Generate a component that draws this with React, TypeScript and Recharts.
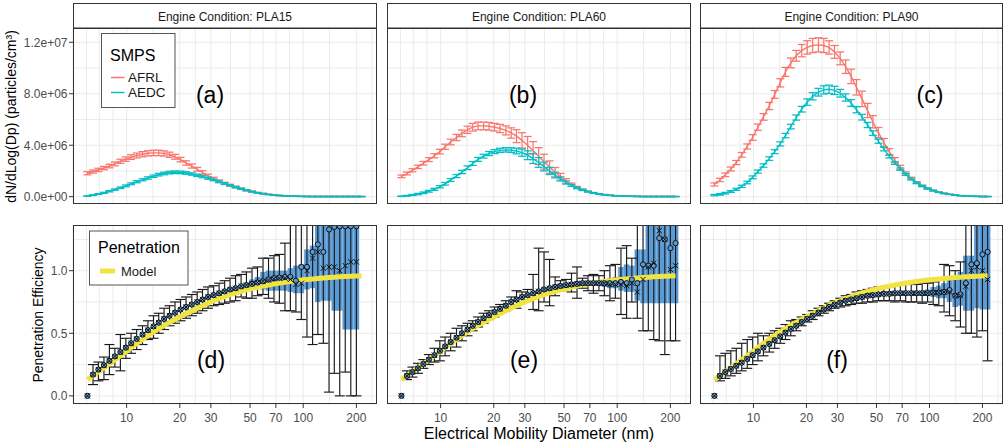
import React from 'react'
import { CartesianGrid, ComposedChart, ErrorBar, Line, Scatter, XAxis, YAxis } from 'recharts'

const FONT = '"Liberation Sans", Arial, Helvetica, sans-serif'
const RED = '#F8766D'
const TEAL = '#00BFC4'
const YELLOW = '#F0E442'
const BLUE = '#5B9BD5'
const GRID = '#EBEBEB'
const BORDER = '#333333'

// electrical mobility diameter bins (nm)
const diam = [
  6.0, 6.45, 6.92, 7.44, 7.99, 8.58, 9.22, 9.9, 10.6, 11.4, 12.3, 13.2, 14.2, 15.2, 16.3, 17.5, 18.8,
  20.2, 21.7, 23.4, 25.1, 26.9, 28.9, 31.1, 33.4, 35.9, 38.5, 41.4, 44.5, 47.7, 51.3, 55.1, 59.2,
  63.6, 68.3, 73.3, 78.8, 84.6, 90.9, 97.6, 105, 113, 121, 130, 140, 150, 161, 173, 186, 200, 214,
]

const conditions = ['PLA15', 'PLA60', 'PLA90']
const topTags = ['(a)', '(b)', '(c)']
const bottomTags = ['(d)', '(e)', '(f)']

// dN/dlogDp, in units of 1e6 particles/cm3
const afrlPLA15 = [
  1.82, 1.95, 2.08, 2.22, 2.38, 2.55, 2.75, 2.92, 3.08, 3.2, 3.3, 3.37, 3.4, 3.4, 3.36, 3.26, 3.1,
  2.88, 2.62, 2.38, 2.13, 1.88, 1.63, 1.4, 1.2, 1.03, 0.89, 0.75, 0.62, 0.5, 0.4, 0.31, 0.24, 0.18,
  0.13, 0.09, 0.065, 0.045, 0.03, 0.02, 0.015, 0.01, 0.01, 0.01, 0.01, 0.01, 0.01, 0.01, 0.01, 0.01, 0.01,
]
const afrlErrPLA15 = [
  0.12, 0.12, 0.13, 0.13, 0.14, 0.15, 0.16, 0.17, 0.18, 0.19, 0.2, 0.2, 0.21, 0.21, 0.2, 0.2, 0.19,
  0.18, 0.17, 0.16, 0.15, 0.14, 0.12, 0.11, 0.1, 0.09, 0.08, 0.07, 0.06, 0.05, 0.04, 0.03, 0.03, 0.02,
  0.02, 0.02, 0.01, 0.01, 0.01, 0.01, 0.01, 0.01, 0.01, 0.01, 0.01, 0.01, 0.01, 0.01, 0.01, 0.01, 0.01,
]
const aedcPLA15 = [
  0.05, 0.12, 0.2, 0.3, 0.42, 0.55, 0.69, 0.84, 1.0, 1.16, 1.31, 1.45, 1.59, 1.71, 1.8, 1.87, 1.9,
  1.89, 1.84, 1.76, 1.66, 1.55, 1.43, 1.3, 1.16, 1.02, 0.88, 0.74, 0.61, 0.49, 0.39, 0.3, 0.23, 0.17,
  0.12, 0.09, 0.06, 0.04, 0.03, 0.02, 0.015, 0.01, 0.01, 0.01, 0.01, 0.01, 0.01, 0.01, 0.01, 0.01, 0.01,
]
const aedcErrPLA15 = [
  0.02, 0.03, 0.03, 0.04, 0.05, 0.05, 0.06, 0.07, 0.07, 0.08, 0.08, 0.09, 0.09, 0.1, 0.1, 0.1, 0.1,
  0.1, 0.1, 0.09, 0.09, 0.08, 0.08, 0.07, 0.07, 0.06, 0.05, 0.05, 0.04, 0.03, 0.03, 0.02, 0.02, 0.01,
  0.01, 0.01, 0.01, 0.01, 0.01, 0.01, 0.01, 0.01, 0.01, 0.01, 0.01, 0.01, 0.01, 0.01, 0.01, 0.01, 0.01,
]

const afrlPLA60 = [
  1.58, 1.8, 2.05, 2.32, 2.6, 2.88, 3.18, 3.5, 3.88, 4.25, 4.6, 4.92, 5.2, 5.4, 5.5, 5.5, 5.47,
  5.4, 5.3, 5.15, 4.95, 4.7, 4.38, 4.0, 3.58, 3.15, 2.72, 2.3, 1.9, 1.55, 1.22, 0.94, 0.72, 0.54,
  0.4, 0.3, 0.22, 0.16, 0.11, 0.08, 0.055, 0.04, 0.03, 0.02, 0.015, 0.01, 0.01, 0.01, 0.01, 0.01, 0.01,
]
const afrlErrPLA60 = [
  0.1, 0.11, 0.12, 0.13, 0.14, 0.15, 0.16, 0.18, 0.2, 0.22, 0.24, 0.26, 0.28, 0.3, 0.3, 0.3, 0.3,
  0.3, 0.32, 0.35, 0.4, 0.5, 0.6, 0.68, 0.7, 0.66, 0.58, 0.48, 0.36, 0.26, 0.18, 0.12, 0.08, 0.06,
  0.04, 0.03, 0.02, 0.02, 0.01, 0.01, 0.01, 0.01, 0.01, 0.01, 0.01, 0.01, 0.01, 0.01, 0.01, 0.01, 0.01,
]
const aedcPLA60 = [
  0.03, 0.07, 0.13, 0.2, 0.3, 0.42, 0.57, 0.77, 1.0, 1.3, 1.6, 1.92, 2.25, 2.58, 2.9, 3.15, 3.35,
  3.5, 3.6, 3.64, 3.62, 3.55, 3.42, 3.22, 2.96, 2.66, 2.34, 2.0, 1.68, 1.38, 1.1, 0.87, 0.68, 0.52,
  0.39, 0.29, 0.21, 0.15, 0.1, 0.07, 0.05, 0.035, 0.025, 0.018, 0.012, 0.01, 0.01, 0.01, 0.01, 0.01, 0.01,
]
const aedcErrPLA60 = [
  0.02, 0.03, 0.04, 0.05, 0.06, 0.07, 0.08, 0.09, 0.1, 0.11, 0.12, 0.13, 0.14, 0.15, 0.15, 0.15, 0.16,
  0.16, 0.16, 0.17, 0.18, 0.22, 0.28, 0.34, 0.38, 0.38, 0.34, 0.28, 0.22, 0.16, 0.12, 0.08, 0.06, 0.04,
  0.03, 0.02, 0.02, 0.01, 0.01, 0.01, 0.01, 0.01, 0.01, 0.01, 0.01, 0.01, 0.01, 0.01, 0.01, 0.01, 0.01,
]

const afrlPLA90 = [
  0.95, 1.3, 1.7, 2.15, 2.65, 3.25, 3.9, 4.6, 5.4, 6.2, 7.05, 7.95, 8.85, 9.7, 10.4, 10.95, 11.35,
  11.6, 11.75, 11.8, 11.75, 11.6, 11.25, 10.75, 10.1, 9.35, 8.5, 7.6, 6.7, 5.82, 4.98, 4.2, 3.48, 2.84,
  2.28, 1.81, 1.42, 1.1, 0.84, 0.64, 0.48, 0.35, 0.26, 0.18, 0.12, 0.08, 0.05, 0.03, 0.02, 0.01, 0.01,
]
const afrlErrPLA90 = [
  0.12, 0.13, 0.14, 0.15, 0.16, 0.18, 0.2, 0.22, 0.24, 0.26, 0.28, 0.3, 0.32, 0.35, 0.38, 0.42, 0.48,
  0.52, 0.55, 0.55, 0.55, 0.52, 0.5, 0.5, 0.52, 0.56, 0.6, 0.6, 0.55, 0.48, 0.4, 0.32, 0.26, 0.2,
  0.16, 0.12, 0.09, 0.07, 0.05, 0.04, 0.03, 0.02, 0.02, 0.01, 0.01, 0.01, 0.01, 0.01, 0.01, 0.01, 0.01,
]
const aedcPLA90 = [
  0.12, 0.18, 0.27, 0.4, 0.57, 0.8, 1.1, 1.5, 1.95, 2.42, 2.96, 3.5, 4.1, 4.75, 5.45, 6.15, 6.8,
  7.35, 7.8, 8.12, 8.3, 8.35, 8.26, 8.04, 7.71, 7.28, 6.76, 6.18, 5.57, 4.94, 4.31, 3.7, 3.13, 2.61,
  2.14, 1.73, 1.37, 1.07, 0.83, 0.63, 0.47, 0.34, 0.25, 0.18, 0.12, 0.08, 0.05, 0.03, 0.02, 0.01, 0.01,
]
const aedcErrPLA90 = [
  0.05, 0.06, 0.06, 0.07, 0.08, 0.09, 0.1, 0.11, 0.12, 0.13, 0.14, 0.15, 0.16, 0.17, 0.18, 0.2, 0.22,
  0.25, 0.28, 0.3, 0.32, 0.32, 0.32, 0.3, 0.28, 0.26, 0.24, 0.22, 0.2, 0.18, 0.16, 0.14, 0.12, 0.1,
  0.09, 0.08, 0.07, 0.06, 0.05, 0.04, 0.03, 0.02, 0.02, 0.01, 0.01, 0.01, 0.01, 0.01, 0.01, 0.01, 0.01,
]

// penetration model (same curve in all three conditions)
const model = [
  0.13, 0.161, 0.192, 0.224, 0.256, 0.288, 0.32, 0.353, 0.386, 0.419, 0.451, 0.482, 0.511, 0.538,
  0.563, 0.587, 0.61, 0.634, 0.657, 0.679, 0.7, 0.721, 0.741, 0.76, 0.777, 0.793, 0.808, 0.822, 0.835,
  0.847, 0.858, 0.868, 0.877, 0.886, 0.894, 0.901, 0.908, 0.914, 0.92, 0.925, 0.93, 0.934, 0.938,
  0.942, 0.945, 0.948, 0.951, 0.953, 0.955, 0.957, 0.959,
]

// measured penetration, PLA15
const circPLA15 = [
  0, 0.17, 0.21, 0.245, 0.28, 0.315, 0.35, 0.385, 0.42, 0.455, 0.49, 0.525, 0.555, 0.585, 0.615, 0.64,
  0.665, 0.69, 0.71, 0.73, 0.75, 0.77, 0.79, 0.805, 0.82, 0.835, 0.85, 0.86, 0.875, 0.885, 0.895,
  0.905, 0.915, 0.93, 0.94, 0.945, 0.95, 0.95, 0.92, 1.03, 1.03, 1.15, 1.21, 1.15, 1.33, 1.35, 1.355,
  1.355, 1.355, 1.355, null,
]
const crossPLA15 = [
  0, 0.17, 0.21, 0.245, 0.28, 0.315, 0.35, 0.385, 0.42, 0.455, 0.49, 0.525, 0.555, 0.585, 0.615, 0.64,
  0.665, 0.69, 0.71, 0.73, 0.75, 0.77, 0.79, 0.805, 0.82, 0.835, 0.85, 0.86, 0.875, 0.885, 0.895,
  0.905, 0.915, 0.925, 0.935, 0.94, 0.94, 0.93, 0.89, 0.9, 1.0, 1.1, 1.15, 1.02, 1.03, 1.03, 1.0,
  1.04, 1.07, 1.07, null,
]
const errLoPLA15 = [
  0, 0.09, 0.12, 0.13, 0.17, 0.23, 0.2, 0.3, 0.34, 0.37, 0.41, 0.45, 0.46, 0.5, 0.53, 0.56, 0.58,
  0.6, 0.62, 0.64, 0.66, 0.68, 0.7, 0.72, 0.73, 0.74, 0.75, 0.76, 0.79, 0.78, 0.78, 0.8, 0.81, 0.78,
  0.75, 0.74, 0.68, 0.68, 0.67, 0.61, 0.47, 0.41, 0.49, 0.42, 0.03, 0.18, 0, 0.19, 0, 0, null,
]
const errHiPLA15 = [
  0, 0.25, 0.27, 0.31, 0.41, 0.38, 0.49, 0.46, 0.5, 0.53, 0.56, 0.6, 0.64, 0.66, 0.7, 0.72, 0.75,
  0.77, 0.79, 0.81, 0.83, 0.85, 0.87, 0.88, 0.9, 0.92, 0.94, 0.96, 0.97, 0.99, 1.02, 1.03, 1.1, 1.1,
  1.12, 1.13, 1.22, 1.45, 1.5, 1.6, 1.7, 1.9, 1.95, 2.0, 2.5, 2.4, 2.7, 2.5, 2.7, 2.7, null,
]
const bandStartPLA15 = 30
const bandLoPLA15 = [0.88, 0.88, 0.85, 0.84, 0.84, 0.84, 0.84, 0.83, 0.82, 0.82, 0.85, 0.86, 0.75, 0.76, 0.76, 0.68, 0.68, 0.53, 0.53, 0.53]
const bandHiPLA15 = [0.93, 0.95, 0.99, 1.0, 1.0, 1.0, 1.0, 1.02, 1.04, 1.05, 1.17, 1.2, 1.5, 1.5, 1.5, 1.5, 1.5, 1.5, 1.5, 1.5]

// measured penetration, PLA60
const circPLA60 = [
  0, 0.16, 0.19, 0.22, 0.255, 0.29, 0.325, 0.36, 0.395, 0.43, 0.465, 0.5, 0.53, 0.56, 0.59, 0.62,
  0.645, 0.67, 0.695, 0.72, 0.75, 0.77, 0.79, 0.805, 0.82, 0.835, 0.85, 0.86, 0.87, 0.878, 0.885,
  0.89, 0.895, 0.9, 0.9, 0.9, 0.9, 0.9, 0.9, 0.9, 0.91, 0.9, 0.93, 0.9, 1.05, 1.04, 1.04, 1.26, 1.25,
  1.18, 1.22,
]
const crossPLA60 = [
  0, 0.16, 0.19, 0.22, 0.255, 0.29, 0.325, 0.36, 0.395, 0.43, 0.465, 0.5, 0.53, 0.56, 0.59, 0.62,
  0.645, 0.67, 0.695, 0.72, 0.75, 0.77, 0.79, 0.805, 0.82, 0.835, 0.85, 0.86, 0.87, 0.878, 0.885,
  0.89, 0.895, 0.9, 0.9, 0.9, 0.9, 0.9, 0.89, 0.89, 0.89, 0.88, 0.9, 0.83, 0.93, 1.03, 1.06, 1.32,
  1.25, 1.01, 1.04,
]
const errLoPLA60 = [
  0, 0.13, 0.15, 0.18, 0.22, 0.25, 0.27, 0.28, 0.32, 0.36, 0.39, 0.44, 0.48, 0.52, 0.55, 0.58, 0.61,
  0.63, 0.66, 0.68, 0.71, 0.7, 0.75, 0.76, 0.69, 0.68, 0.75, 0.72, 0.8, 0.84, 0.85, 0.83, 0.78, 0.86,
  0.84, 0.82, 0.84, 0.8, 0.76, 0.78, 0.65, 0.62, 0.75, 0.62, 0.52, 0.52, 0.45, 0.44, 0.33, 0.44, 0.44,
]
const errHiPLA60 = [
  0, 0.2, 0.23, 0.26, 0.29, 0.33, 0.38, 0.44, 0.47, 0.5, 0.54, 0.56, 0.58, 0.6, 0.63, 0.66, 0.68,
  0.71, 0.73, 0.76, 0.79, 0.84, 0.83, 0.85, 0.97, 1.18, 1.15, 1.09, 0.95, 0.92, 0.93, 0.98, 1.03,
  0.94, 0.96, 0.97, 0.96, 1.0, 1.04, 1.05, 1.18, 1.2, 1.1, 1.5, 1.6, 1.6, 1.65, 2.0, 2.1, 1.9, 2.0,
]
const bandStartPLA60 = 37
const bandLoPLA60 = [0.87, 0.86, 0.86, 0.84, 0.83, 0.83, 0.76, 0.74, 0.74, 0.74, 0.74, 0.74, 0.74, 0.74]
const bandHiPLA60 = [0.93, 0.94, 0.95, 1.03, 1.05, 1.04, 1.17, 1.17, 1.5, 1.5, 1.5, 1.5, 1.5, 1.5]

// measured penetration, PLA90
const circPLA90 = [
  0, 0.16, 0.19, 0.215, 0.24, 0.265, 0.295, 0.325, 0.355, 0.385, 0.415, 0.445, 0.475, 0.505, 0.535,
  0.56, 0.59, 0.615, 0.64, 0.665, 0.69, 0.71, 0.73, 0.745, 0.76, 0.77, 0.78, 0.79, 0.8, 0.805, 0.81,
  0.815, 0.815, 0.82, 0.82, 0.82, 0.82, 0.82, 0.82, 0.82, 0.825, 0.825, 0.83, 0.845, 0.8, 0.81, 0.9,
  1.05, 1.06, 1.13, 1.15,
]
const crossPLA90 = [
  0, 0.16, 0.19, 0.215, 0.24, 0.265, 0.295, 0.325, 0.355, 0.385, 0.415, 0.445, 0.475, 0.505, 0.535,
  0.56, 0.59, 0.615, 0.64, 0.665, 0.69, 0.71, 0.73, 0.745, 0.76, 0.77, 0.78, 0.79, 0.8, 0.805, 0.81,
  0.815, 0.815, 0.82, 0.82, 0.82, 0.82, 0.82, 0.82, 0.82, 0.825, 0.825, 0.83, 0.83, 0.8, 0.8, 0.875,
  1.0, 1.03, 1.0, 0.93,
]
const errLoPLA90 = [
  0, 0.12, 0.14, 0.16, 0.18, 0.2, 0.22, 0.25, 0.28, 0.32, 0.35, 0.38, 0.42, 0.45, 0.48, 0.52, 0.56,
  0.59, 0.61, 0.64, 0.66, 0.68, 0.7, 0.71, 0.72, 0.73, 0.74, 0.74, 0.75, 0.75, 0.76, 0.76, 0.76, 0.75,
  0.76, 0.75, 0.75, 0.75, 0.74, 0.75, 0.73, 0.72, 0.67, 0.64, 0.6, 0.55, 0.5, 0.5, 0.47, 0.52, 0.28,
]
const errHiPLA90 = [
  0, 0.32, 0.34, 0.36, 0.38, 0.42, 0.45, 0.47, 0.5, 0.48, 0.5, 0.52, 0.54, 0.57, 0.6, 0.61, 0.63,
  0.65, 0.68, 0.7, 0.72, 0.74, 0.76, 0.78, 0.8, 0.81, 0.83, 0.84, 0.85, 0.86, 0.87, 0.87, 0.88, 0.88,
  0.89, 0.89, 0.89, 0.89, 0.9, 0.9, 0.91, 0.93, 1.05, 1.04, 1.0, 1.07, 1.4, 1.6, 1.65, 1.75, 2.0,
]
const bandStartPLA90 = 38
const bandLoPLA90 = [0.8, 0.8, 0.79, 0.78, 0.78, 0.75, 0.71, 0.72, 0.68, 0.68, 0.7, 0.69, 0.69]
const bandHiPLA90 = [0.84, 0.85, 0.87, 0.88, 0.9, 0.93, 0.93, 0.99, 1.12, 1.12, 1.5, 1.5, 1.5]

// axis breaks
const xGrid = [5.92, 7, 8.37, 10, 14.1, 20, 24.5, 30, 38.7, 50, 59.2, 70, 83.7, 100, 141, 200, 245]
const xLabels = [10, 20, 30, 50, 70, 100, 200]
const topGrid = [0, 2, 4, 6, 8, 10, 12]
const topLabels = [0, 4, 8, 12]
const botGrid = [0, 0.25, 0.5, 0.75, 1, 1.25]
const botLabels = [0, 0.5, 1]

const topSeries = [
  { afrl: afrlPLA15, afrlErr: afrlErrPLA15, aedc: aedcPLA15, aedcErr: aedcErrPLA15 },
  { afrl: afrlPLA60, afrlErr: afrlErrPLA60, aedc: aedcPLA60, aedcErr: aedcErrPLA60 },
  { afrl: afrlPLA90, afrlErr: afrlErrPLA90, aedc: aedcPLA90, aedcErr: aedcErrPLA90 },
]
const bottomSeries = [
  { circ: circPLA15, cross: crossPLA15, lo: errLoPLA15, hi: errHiPLA15, bandStart: bandStartPLA15, bandLo: bandLoPLA15, bandHi: bandHiPLA15 },
  { circ: circPLA60, cross: crossPLA60, lo: errLoPLA60, hi: errHiPLA60, bandStart: bandStartPLA60, bandLo: bandLoPLA60, bandHi: bandHiPLA60 },
  { circ: circPLA90, cross: crossPLA90, lo: errLoPLA90, hi: errHiPLA90, bandStart: bandStartPLA90, bandLo: bandLoPLA90, bandHi: bandHiPLA90 },
]

// layout
const COL_LEFT = [73, 387, 700]
const COL_WIDTH = [304, 304, 303]
const AXIS_W = 73
const TOP_Y = 28
const TOP_H = 176
const BOT_Y = 225
const BOT_H = 179
const BOT_AXIS_H = 30
const X_DOMAIN = [4.97, 261.7]
const TOP_DOMAIN = [-0.57, 13.11]
const BOT_DOMAIN = [-0.065, 1.365]

function sci(v: number) {
  const n = v * 1e6
  if (n === 0) return '0.0e+00'
  const e = Math.floor(Math.log10(n) + 1e-9)
  return `${(n / 10 ** e).toFixed(1)}e+${String(e).padStart(2, '0')}`
}

const makeYTick = (show: boolean, labels: number[], fmt: (v: number) => string) => (p: any) => {
  const v = p.payload?.value
  if (!show || !labels.includes(v)) return <g />
  return (
    <g>
      <line x1={p.x - 4} x2={p.x} y1={p.y} y2={p.y} stroke={BORDER} strokeWidth={1} />
      <text x={p.x - 5.5} y={p.y + 4.3} textAnchor="end" fontSize={12} fill="#4D4D4D" fontFamily={FONT}>
        {fmt(v)}
      </text>
    </g>
  )
}

const XTick = (p: any) => {
  const v = p.payload?.value
  if (!xLabels.includes(v)) return <g />
  return (
    <g>
      <line x1={p.x} x2={p.x} y1={p.y} y2={p.y + 4} stroke={BORDER} strokeWidth={1} />
      <text x={p.x} y={p.y + 18} textAnchor="middle" fontSize={12} fill="#4D4D4D" fontFamily={FONT}>
        {v}
      </text>
    </g>
  )
}

const CircleMark = (p: any) => (
  <circle cx={p.cx} cy={p.cy} r={2.6} fill={BLUE} stroke="#111" strokeWidth={1} />
)
const CrossMark = (p: any) => (
  <path
    d={`M${p.cx - 2.6},${p.cy - 2.6}L${p.cx + 2.6},${p.cy + 2.6}M${p.cx - 2.6},${p.cy + 2.6}L${p.cx + 2.6},${p.cy - 2.6}`}
    stroke="#111"
    strokeWidth={1}
    fill="none"
  />
)
const NoMark = () => <g />

function TopPanel({ col }: { col: number }) {
  const s = topSeries[col]
  const rows = diam.map((d, i) => ({
    d,
    afrl: s.afrl[i],
    afrlErr: s.afrlErr[i],
    aedc: s.aedc[i],
    aedcErr: s.aedcErr[i],
  }))
  const axisW = col === 0 ? AXIS_W : 0
  return (
    <div style={{ position: 'absolute', left: COL_LEFT[col] - axisW, top: TOP_Y }}>
      <ComposedChart
        width={COL_WIDTH[col] + axisW}
        height={TOP_H}
        data={rows}
        margin={{ top: 0, right: 0, bottom: 0, left: 0 }}
      >
        <CartesianGrid stroke={GRID} strokeWidth={1} />
        <XAxis
          dataKey="d"
          type="number"
          scale="log"
          domain={X_DOMAIN}
          allowDataOverflow
          ticks={xGrid}
          interval={0}
          height={0}
          tickSize={0}
          tickMargin={0}
          tickLine={false}
          axisLine={false}
          tick={NoMark}
        />
        <YAxis
          type="number"
          domain={TOP_DOMAIN}
          allowDataOverflow
          ticks={topGrid}
          interval={0}
          width={axisW}
          tickSize={0}
          tickMargin={0}
          tickLine={false}
          axisLine={false}
          tick={makeYTick(col === 0, topLabels, sci)}
        />
        <Line dataKey="afrl" stroke={RED} strokeWidth={1.4} dot={false} isAnimationActive={false}>
          <ErrorBar dataKey="afrlErr" width={4} stroke={RED} strokeWidth={1.25} direction="y" isAnimationActive={false} />
        </Line>
        <Line dataKey="aedc" stroke={TEAL} strokeWidth={1.4} dot={false} isAnimationActive={false}>
          <ErrorBar dataKey="aedcErr" width={4} stroke={TEAL} strokeWidth={1.25} direction="y" isAnimationActive={false} />
        </Line>
      </ComposedChart>
    </div>
  )
}

function BottomPanel({ col }: { col: number }) {
  const s = bottomSeries[col]
  const modelRows = diam.map((d, i) => ({ d, model: model[i] }))
  const circRows = diam.map((d, i) => ({ d, y: s.circ[i] })).filter((r) => r.y != null)
  const crossRows = diam.map((d, i) => ({ d, y: s.cross[i] })).filter((r) => r.y != null)
  const errRows = diam
    .map((d, i) => ({
      d,
      y: s.circ[i],
      span: s.hi[i] - s.lo[i],
      err: [s.circ[i] - s.lo[i], s.hi[i] - s.circ[i]],
    }))
    .filter((r) => r.y != null && r.span > 0)
  const bandRows = s.bandLo.map((lo, j) => ({
    d: diam[s.bandStart + j],
    y: lo,
    err: [0, s.bandHi[j] - lo],
  }))
  const axisW = col === 0 ? AXIS_W : 0
  return (
    <div style={{ position: 'absolute', left: COL_LEFT[col] - axisW, top: BOT_Y }}>
      <ComposedChart
        width={COL_WIDTH[col] + axisW}
        height={BOT_H + BOT_AXIS_H}
        data={modelRows}
        margin={{ top: 0, right: 0, bottom: 0, left: 0 }}
      >
        <CartesianGrid stroke={GRID} strokeWidth={1} />
        <XAxis
          dataKey="d"
          type="number"
          scale="log"
          domain={X_DOMAIN}
          allowDataOverflow
          ticks={xGrid}
          interval={0}
          height={BOT_AXIS_H}
          tickSize={0}
          tickMargin={0}
          tickLine={false}
          axisLine={false}
          tick={XTick}
        />
        <YAxis
          type="number"
          domain={BOT_DOMAIN}
          allowDataOverflow
          ticks={botGrid}
          interval={0}
          width={axisW}
          tickSize={0}
          tickMargin={0}
          tickLine={false}
          axisLine={false}
          tick={makeYTick(col === 0, botLabels, (v) => v.toFixed(1))}
        />
        <Scatter data={bandRows} dataKey="y" shape={NoMark} isAnimationActive={false}>
          <ErrorBar dataKey="err" width={0} stroke={BLUE} strokeWidth={5.6} direction="y" isAnimationActive={false} />
        </Scatter>
        <Scatter data={errRows} dataKey="y" shape={NoMark} isAnimationActive={false}>
          <ErrorBar dataKey="err" width={5} stroke="#1A1A1A" strokeWidth={1.15} direction="y" isAnimationActive={false} />
        </Scatter>
        <Scatter data={circRows} dataKey="y" shape={CircleMark} isAnimationActive={false} />
        <Scatter data={crossRows} dataKey="y" shape={CrossMark} isAnimationActive={false} />
        <Line dataKey="model" stroke={YELLOW} strokeWidth={5} dot={false} isAnimationActive={false} />
      </ComposedChart>
    </div>
  )
}

function Overlay() {
  const txt = { fontFamily: FONT }
  return (
    <svg
      width={1008}
      height={448}
      style={{ position: 'absolute', left: 0, top: 0, pointerEvents: 'none' }}
    >
      {COL_LEFT.map((l, c) => (
        <g key={'p' + c}>
          <rect x={l + 0.5} y={3.5} width={COL_WIDTH[c] - 1} height={24.5} fill="#fff" stroke={BORDER} />
          <text x={l + COL_WIDTH[c] / 2} y={20.5} textAnchor="middle" fontSize={12} fill="#1A1A1A" {...txt}>
            Engine Condition: {conditions[c]}
          </text>
          <rect x={l + 0.5} y={TOP_Y + 0.5} width={COL_WIDTH[c] - 1} height={TOP_H - 1} fill="none" stroke={BORDER} />
          <rect x={l + 0.5} y={BOT_Y + 0.5} width={COL_WIDTH[c] - 1} height={BOT_H - 1} fill="none" stroke={BORDER} />
        </g>
      ))}

      {/* panel tags */}
      <text x={210} y={103} textAnchor="middle" fontSize={23} fill="#000" {...txt}>{topTags[0]}</text>
      <text x={523} y={103} textAnchor="middle" fontSize={23} fill="#000" {...txt}>{topTags[1]}</text>
      <text x={930} y={103} textAnchor="middle" fontSize={23} fill="#000" {...txt}>{topTags[2]}</text>
      <text x={211} y={368} textAnchor="middle" fontSize={23} fill="#000" {...txt}>{bottomTags[0]}</text>
      <text x={524} y={368} textAnchor="middle" fontSize={23} fill="#000" {...txt}>{bottomTags[1]}</text>
      <text x={837} y={368} textAnchor="middle" fontSize={23} fill="#000" {...txt}>{bottomTags[2]}</text>

      {/* SMPS legend */}
      <rect x={101.5} y={33.5} width={73.5} height={74} fill="#fff" stroke="#555" />
      <text x={110} y={61} fontSize={16} fill="#000" {...txt}>SMPS</text>
      <line x1={111} x2={124.5} y1={77.5} y2={77.5} stroke={RED} strokeWidth={1.5} />
      <text x={128} y={82.3} fontSize={13.5} fill="#1A1A1A" {...txt}>AFRL</text>
      <line x1={111} x2={124.5} y1={92.5} y2={92.5} stroke={TEAL} strokeWidth={1.5} />
      <text x={128} y={97.3} fontSize={13.5} fill="#1A1A1A" {...txt}>AEDC</text>

      {/* Penetration legend */}
      <rect x={89.5} y={231} width={98.5} height={54} fill="#fff" stroke="#555" />
      <text x={98} y={253} fontSize={16} fill="#000" {...txt}>Penetration</text>
      <rect x={100} y={268.5} width={15} height={5} fill={YELLOW} />
      <text x={121} y={275.5} fontSize={13} fill="#1A1A1A" {...txt}>Model</text>

      {/* axis titles */}
      <text x={15.5} y={116.5} transform="rotate(-90 15.5 116.5)" textAnchor="middle" fontSize={14} fill="#000" {...txt}>
        dN/dLog(Dp) (particles/cm³)
      </text>
      <text x={42.5} y={315} transform="rotate(-90 42.5 315)" textAnchor="middle" fontSize={14} fill="#000" {...txt}>
        Penetration Efficiency
      </text>
      <text x={539} y={439} textAnchor="middle" fontSize={16} fill="#000" {...txt}>
        Electrical Mobility Diameter (nm)
      </text>
    </svg>
  )
}

export default function App() {
  return (
    <div
      style={{
        position: 'absolute',
        left: 0,
        top: 0,
        width: 1008,
        height: 448,
        background: '#fff',
        overflow: 'hidden',
        fontFamily: FONT,
      }}
    >
      {[0, 1, 2].map((c) => (
        <TopPanel key={'t' + c} col={c} />
      ))}
      {[0, 1, 2].map((c) => (
        <BottomPanel key={'b' + c} col={c} />
      ))}
      <Overlay />
    </div>
  )
}
